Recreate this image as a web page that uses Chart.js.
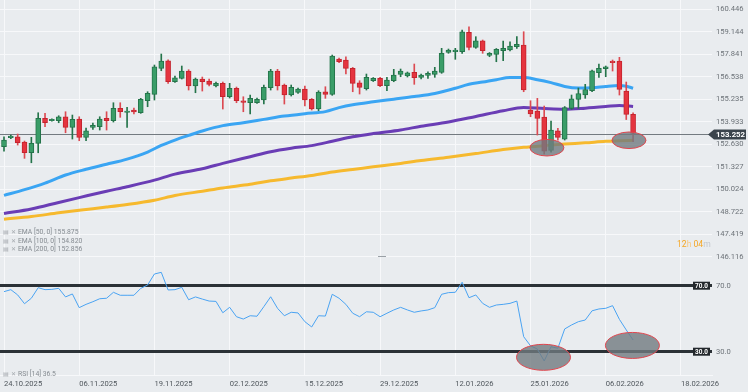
<!DOCTYPE html>
<html>
<head>
<meta charset="utf-8">
<script src="https://cdn.jsdelivr.net/npm/chart.js@4.4.0/dist/chart.umd.min.js"></script>
<style>
    html, body { margin: 0; padding: 0; }
    body { width: 748px; height: 392px; background: #e9ecef; position: relative; overflow: hidden; font-family: Roboto, sans-serif; }
    canvas { position: absolute; left: 0; }
    #priceChart { top: 0; }
    #rsiChart { top: 258px; }
    .legend { position: absolute; left: 3px; font-size: 6.8px; line-height: 8px; color: #868c92; white-space: nowrap; }
    .legend .ico { display: inline-block; width: 7.5px; color: #a3a8ad; font-size: 6px; }
    #countdown { position: absolute; left: 677px; top: 238px; font-size: 8.6px; line-height: 12px; color: #f5a623; }
    #countdown .u1 { color: #f8c77c; }
    #countdown .u2 { color: #c3c7cc; }
    #handle { position: absolute; left: 378px; top: 256px; width: 8px; height: 1px; background: #9aa0a6; }
</style>
</head>
<body>
<canvas id="priceChart" width="748" height="266"></canvas>
<canvas id="rsiChart" width="748" height="134"></canvas>

<div class="legend" style="top:228px"><span class="ico">▤</span><span class="ico">✕</span>EMA [50, 0] 155.875</div>
<div class="legend" style="top:236.5px"><span class="ico">▤</span><span class="ico">✕</span>EMA [100, 0] 154.820</div>
<div class="legend" style="top:245px"><span class="ico">▤</span><span class="ico">✕</span>EMA [200, 0] 152.856</div>
<div class="legend" style="top:370px"><span class="ico">▤</span><span class="ico">✕</span>RSI [14] 36.5</div>
<div id="countdown">12<span class="u1">h</span> 04<span class="u2">m</span></div>
<div id="handle"></div>

<script>
    //  ==================== DATA ====================
    // daily candles, one per index (0 = 24.10.2025)
    let openPrices = [
        152.485, 153.007, 153.065, 152.757, 152.137, 152.682, 154.131, 153.992, 153.992, 154.223,
        153.609, 154.090, 153.030, 153.609, 153.644, 154.131, 153.992, 154.710, 154.478, 154.611,
        154.455, 155.150, 155.521, 157.028, 157.468, 156.251, 156.448, 156.871, 156.002, 156.408,
        156.292, 156.002, 156.159, 155.382, 155.869, 155.150, 155.035, 155.035, 155.191, 155.904,
        156.871, 156.060, 155.481, 155.637, 155.828, 155.232, 154.670, 155.672, 155.521, 157.567,
        157.509, 157.028, 156.193, 155.846, 156.309, 156.448, 156.020, 156.309, 156.680, 156.582,
        156.796, 156.506, 156.622, 156.680, 156.796, 157.955, 157.990, 157.990, 159.114, 158.244,
        158.627, 157.781, 157.839, 158.047, 158.088, 158.279, 158.378, 154.611, 154.554, 154.206,
        152.277, 153.412, 152.931, 154.710, 155.232, 155.481, 155.730, 156.773, 157.005, 157.451,
        157.451, 155.712, 154.363
    ];
    let highPrices = [
        153.065, 153.163, 153.221, 152.815, 153.030, 154.455, 154.420, 154.100, 154.281, 154.513,
        154.322, 154.223, 153.569, 153.858, 154.223, 154.513, 155.035, 155.035, 154.768, 154.727,
        155.290, 155.672, 157.219, 157.856, 157.526, 156.582, 157.161, 156.947, 156.466, 156.524,
        156.408, 156.234, 156.234, 156.159, 155.944, 155.382, 155.481, 155.307, 156.060, 156.970,
        156.970, 156.118, 156.060, 155.886, 156.002, 155.280, 155.730, 155.962, 157.798, 157.625,
        157.700, 157.080, 156.309, 156.697, 156.494, 156.506, 156.506, 156.970, 156.987, 156.813,
        157.277, 156.697, 156.831, 157.086, 158.187, 158.146, 158.187, 159.247, 159.438, 158.859,
        158.667, 157.943, 158.175, 158.609, 158.569, 158.859, 159.148, 155.150, 155.290, 154.843,
        153.974, 153.551, 154.814, 155.481, 155.886, 156.101, 156.929, 157.277, 157.161, 157.509,
        157.665, 156.234, 154.455
    ];
    let lowPrices = [
        152.236, 152.960, 152.584, 151.813, 151.558, 152.137, 153.644, 153.960, 153.876, 153.296,
        152.931, 152.833, 152.833, 153.493, 153.453, 153.453, 153.916, 154.189, 153.609, 154.380,
        154.420, 154.803, 155.191, 156.889, 156.159, 156.216, 156.408, 155.770, 155.614, 155.712,
        156.002, 155.944, 154.670, 155.307, 155.035, 154.513, 154.380, 154.988, 154.959, 155.770,
        155.770, 154.959, 155.423, 155.567, 154.843, 154.611, 154.571, 155.289, 155.463, 157.352,
        156.697, 155.672, 155.539, 155.770, 156.263, 155.962, 155.730, 156.251, 156.541, 156.524,
        156.101, 156.408, 156.448, 156.506, 156.738, 157.897, 157.549, 157.897, 158.088, 158.187,
        157.897, 157.700, 157.410, 157.468, 158.030, 158.187, 155.672, 154.223, 153.163, 152.062,
        152.178, 152.873, 152.873, 154.650, 154.710, 155.290, 155.672, 156.506, 156.541, 156.871,
        155.481, 154.061, 152.775
    ];
    let closePrices = [
        152.873, 153.105, 152.717, 152.137, 152.682, 154.131, 153.876, 154.073, 154.223, 153.609,
        154.073, 153.030, 153.412, 153.725, 154.090, 153.992, 154.710, 154.513, 154.554, 154.496,
        155.232, 155.579, 157.120, 157.451, 156.251, 156.483, 156.871, 156.002, 156.408, 156.251,
        156.101, 156.159, 155.382, 155.869, 155.150, 155.058, 155.290, 155.232, 155.927, 156.871,
        156.002, 155.481, 155.927, 155.828, 155.191, 154.670, 155.655, 155.521, 157.740, 157.410,
        157.028, 156.159, 155.927, 156.506, 156.448, 156.020, 156.350, 156.640, 156.871, 156.773,
        156.483, 156.640, 156.738, 156.871, 157.897, 158.088, 158.088, 159.148, 158.244, 158.627,
        158.047, 157.897, 158.129, 158.187, 158.320, 158.418, 155.770, 154.380, 154.119, 152.236,
        153.453, 153.030, 154.756, 155.260, 155.562, 155.794, 156.883, 157.028, 157.120, 157.352,
        155.811, 154.363, 153.252
    ];

    // EMA lines, read at these candle indices
    let ema50Idx = [0, 3, 6, 9, 12, 15, 18, 21, 23, 25, 27, 29, 32, 35, 38, 41, 44, 47, 49, 51, 54, 57, 60, 63, 66, 68, 70, 72, 74, 76, 78, 80, 82, 84, 86, 88, 90, 91, 92];
    let ema50 = [149.67, 150.00, 150.38, 150.85, 151.18, 151.47, 151.77, 152.18, 152.56, 152.87, 153.14, 153.40, 153.71, 153.88, 154.07, 154.26, 154.40, 154.52, 154.75, 154.92, 155.09, 155.24, 155.39, 155.57, 155.87, 156.10, 156.23, 156.37, 156.49, 156.49, 156.37, 156.20, 155.98, 155.89, 155.90, 155.98, 156.03, 155.99, 155.875];
    let emaSlowIdx = [0, 4, 8, 11, 15, 18, 22, 25, 29, 32, 36, 39, 42, 45, 48, 51, 54, 58, 61, 65, 69, 73, 76, 79, 82, 85, 88, 90, 92];
    let ema100 = [148.62, 148.88, 149.26, 149.54, 149.91, 150.17, 150.55, 150.90, 151.21, 151.52, 151.91, 152.20, 152.40, 152.55, 152.80, 153.06, 153.25, 153.46, 153.67, 153.92, 154.24, 154.57, 154.76, 154.70, 154.66, 154.72, 154.81, 154.88, 154.82];
    let ema200 = [148.29, 148.44, 148.66, 148.81, 148.99, 149.14, 149.39, 149.66, 149.91, 150.10, 150.31, 150.51, 150.67, 150.82, 151.02, 151.17, 151.32, 151.52, 151.69, 151.88, 152.09, 152.32, 152.45, 152.55, 152.64, 152.71, 152.80, 152.83, 152.856];

    // RSI(14), one per candle
    let rsiValues = [
        66.4, 67.6, 64.4, 59.1, 62.4, 68.8, 67.6, 67.8, 68.4, 63.2,
        65.0, 56.7, 58.7, 60.3, 62.1, 62.4, 66.0, 64.2, 64.2, 64.2,
        68.4, 70.4, 77.1, 78.1, 67.4, 67.6, 69.0, 61.5, 63.2, 61.9,
        60.7, 60.5, 53.6, 56.9, 51.2, 49.8, 51.8, 51.5, 57.3, 63.3,
        56.3, 51.8, 53.9, 53.5, 48.2, 45.0, 51.8, 51.6, 64.8, 62.4,
        58.7, 53.3, 51.2, 54.2, 53.9, 51.2, 53.3, 55.3, 56.9, 55.3,
        53.9, 54.7, 55.3, 56.7, 64.8, 65.8, 66.0, 72.1, 62.7, 64.4,
        59.3, 56.9, 58.3, 58.7, 59.3, 60.7, 39.1, 33.6, 31.6, 24.4,
        33.0, 32.1, 43.8, 46.2, 48.2, 49.2, 54.8, 55.9, 56.3, 57.9,
        49.6, 43.2, 37.1
    ];

    // axes
    let dateTickIdx = [0, 11, 22, 33, 44, 55, 66, 77, 88, 99];
    let dateLabels = ['24.10.2025', '06.11.2025', '19.11.2025', '02.12.2025', '15.12.2025', '29.12.2025', '12.01.2026', '25.01.2026', '06.02.2026', '18.02.2026'];
    let priceTicks = [146.116, 147.419, 148.722, 150.024, 151.327, 152.630, 153.933, 155.235, 156.538, 157.841, 159.144, 160.446];
    let rsiLevels = [70, 30];
    let lastPrice = 153.252;

    // highlighted zones (ellipses)
    let markIdx = [79.4, 91.4];
    let markPrice = [152.43, 152.86];
    let rsiMarkIdx = [78.9, 91.9];
    let rsiMarkValue = [26.6, 33.8];

    //  ==================== SHARED ====================
    let xMin = -0.585, xMax = 103.54;
    let gridColor = '#f7f8fa';
    let upBody = '#3a9d68', upLine = '#24744a';
    let downBody = '#e5343f', downLine = '#c4242e';

    function isUp(i){
        return closePrices[i] >= openPrices[i];
    }

    function drawEllipses(chart, idxList, valList, rx, ry){
        let ctx = chart.ctx;
        let xs = chart.scales.x, ys = chart.scales.y;
        ctx.save();
        for (let k = 0; k < idxList.length; k++) {
            ctx.beginPath();
            ctx.ellipse(xs.getPixelForValue(idxList[k]), ys.getPixelForValue(valList[k]), rx, ry, 0, 0, Math.PI * 2);
            ctx.fillStyle = 'rgba(112,122,128,0.8)';
            ctx.fill();
            ctx.lineWidth = 1;
            ctx.strokeStyle = '#e0454d';
            ctx.stroke();
        }
        ctx.restore();
    }

    //  ==================== PRICE CHART ====================
    let lastPricePlugin = {
        id: 'lastPrice',
        beforeDatasetsDraw(chart){
            let ctx = chart.ctx;
            let py = Math.round(chart.scales.y.getPixelForValue(lastPrice)) + 0.5;
            ctx.save();
            ctx.strokeStyle = '#737a80';
            ctx.lineWidth = 1;
            ctx.beginPath();
            ctx.moveTo(chart.chartArea.left, py);
            ctx.lineTo(709, py);
            ctx.stroke();
            ctx.restore();
        },
        afterDraw(chart){
            let ctx = chart.ctx;
            let py = Math.round(chart.scales.y.getPixelForValue(lastPrice)) + 0.5;
            ctx.save();
            ctx.fillStyle = '#3b444c';
            ctx.beginPath();
            ctx.moveTo(708, py);
            ctx.lineTo(714, py - 5);
            ctx.lineTo(746, py - 5);
            ctx.lineTo(746, py + 5);
            ctx.lineTo(714, py + 5);
            ctx.closePath();
            ctx.fill();
            ctx.fillStyle = '#ffffff';
            ctx.font = 'bold 7.8px Roboto';
            ctx.textAlign = 'center';
            ctx.textBaseline = 'middle';
            ctx.fillText(lastPrice.toFixed(3), 730.5, py + 0.5);
            ctx.restore();
        }
    };

    let priceMarksPlugin = {
        id: 'priceMarks',
        afterDatasetsDraw(chart){
            drawEllipses(chart, markIdx, markPrice, 17, 8.3);
        }
    };

    let priceCtx = document.getElementById('priceChart');
    let priceChart = new Chart(priceCtx, {
        type: 'bar',
        data: {
            datasets: [
                {
                    label: 'Body',
                    data: openPrices.map((o, i) => ({x: i, y: [o, closePrices[i]]})),
                    backgroundColor: c => isUp(c.dataIndex) ? upBody : downBody,
                    borderColor: c => isUp(c.dataIndex) ? upLine : downLine,
                    borderWidth: 1,
                    borderSkipped: false,
                    barThickness: 5,
                    grouped: false,
                    order: 0
                },
                {
                    label: 'Wick',
                    data: lowPrices.map((l, i) => ({x: i, y: [l, highPrices[i]]})),
                    backgroundColor: c => isUp(c.dataIndex) ? upLine : '#dc4a52',
                    borderWidth: 0,
                    barThickness: 1,
                    grouped: false,
                    order: 1
                },
                {
                    type: 'line',
                    label: 'EMA 50',
                    data: ema50Idx.map((x, k) => ({x: x, y: ema50[k]})),
                    borderColor: '#3aa5f3',
                    borderWidth: 3,
                    pointRadius: 0,
                    cubicInterpolationMode: 'monotone',
                    order: 2
                },
                {
                    type: 'line',
                    label: 'EMA 100',
                    data: emaSlowIdx.map((x, k) => ({x: x, y: ema100[k]})),
                    borderColor: '#6a3db5',
                    borderWidth: 3,
                    pointRadius: 0,
                    cubicInterpolationMode: 'monotone',
                    order: 3
                },
                {
                    type: 'line',
                    label: 'EMA 200',
                    data: emaSlowIdx.map((x, k) => ({x: x, y: ema200[k]})),
                    borderColor: '#f6b92e',
                    borderWidth: 3,
                    pointRadius: 0,
                    cubicInterpolationMode: 'monotone',
                    order: 4
                }
            ]
        },
        options: {
            responsive: false,
            animation: false,
            layout: { padding: { left: 0, right: 0, top: 0, bottom: 8 } },
            plugins: { legend: { display: false }, tooltip: { enabled: false } },
            scales: {
                x: {
                    type: 'linear',
                    min: xMin,
                    max: xMax,
                    offset: false,
                    afterBuildTicks: axis => { axis.ticks = dateTickIdx.map(v => ({value: v})); },
                    afterFit: axis => { axis.height = 0; axis.paddingLeft = 0; axis.paddingRight = 0; },
                    ticks: { display: false },
                    grid: { color: gridColor, drawTicks: false, offset: false },
                    border: { display: false }
                },
                y: {
                    position: 'right',
                    min: 146.041,
                    max: 160.985,
                    afterBuildTicks: axis => { axis.ticks = priceTicks.map(v => ({value: v})); },
                    afterFit: axis => { axis.width = 36; axis.paddingTop = 0; axis.paddingBottom = 0; },
                    ticks: {
                        padding: 4,
                        color: '#6d7379',
                        font: { family: 'Roboto', size: 7.6 },
                        callback: v => v.toFixed(3)
                    },
                    grid: { color: gridColor, drawTicks: false },
                    border: { display: false }
                }
            }
        },
        plugins: [lastPricePlugin, priceMarksPlugin]
    });

    //  ==================== RSI CHART ====================
    let rsiTagPlugin = {
        id: 'rsiTags',
        afterDraw(chart){
            let ctx = chart.ctx;
            ctx.save();
            rsiLevels.forEach(level => {
                let py = chart.scales.y.getPixelForValue(level);
                ctx.fillStyle = '#23282c';
                ctx.fillRect(693, py - 4, 17, 8);
                ctx.fillStyle = '#ffffff';
                ctx.font = 'bold 6.4px Roboto';
                ctx.textAlign = 'center';
                ctx.textBaseline = 'middle';
                ctx.fillText(level.toFixed(1), 701.5, py + 0.5);
            });
            ctx.restore();
        }
    };

    let rsiMarksPlugin = {
        id: 'rsiMarks',
        afterDatasetsDraw(chart){
            drawEllipses(chart, rsiMarkIdx, rsiMarkValue, 27, 13);
        }
    };

    let rsiCtx = document.getElementById('rsiChart');
    let rsiChart = new Chart(rsiCtx, {
        type: 'line',
        data: {
            datasets: [
                {
                    label: 'RSI',
                    data: rsiValues.map((v, i) => ({x: i, y: v})),
                    borderColor: '#4aa3f2',
                    borderWidth: 1,
                    pointRadius: 0,
                    tension: 0
                }
            ]
        },
        options: {
            responsive: false,
            animation: false,
            layout: { padding: 0 },
            plugins: { legend: { display: false }, tooltip: { enabled: false } },
            scales: {
                x: {
                    type: 'linear',
                    min: xMin,
                    max: xMax,
                    afterBuildTicks: axis => { axis.ticks = dateTickIdx.map(v => ({value: v})); },
                    afterFit: axis => { axis.height = 16.5; axis.paddingLeft = 0; axis.paddingRight = 0; },
                    ticks: {
                        align: 'start',
                        padding: 4,
                        maxRotation: 0,
                        autoSkip: false,
                        color: '#50575d',
                        font: { family: 'Roboto', size: 7.6 },
                        callback: v => dateLabels[dateTickIdx.indexOf(v)]
                    },
                    grid: { color: gridColor, drawTicks: false },
                    border: { display: true, color: gridColor }
                },
                y: {
                    position: 'right',
                    min: 15.58,
                    max: 86.79,
                    afterBuildTicks: axis => { axis.ticks = rsiLevels.map(v => ({value: v})); },
                    afterFit: axis => { axis.width = 36; axis.paddingTop = 0; axis.paddingBottom = 0; },
                    ticks: {
                        padding: 4,
                        color: '#6d7379',
                        font: { family: 'Roboto', size: 7.6 },
                        callback: v => v.toFixed(1)
                    },
                    grid: { color: '#2b3136', lineWidth: 3, drawTicks: false, z: 0 },
                    border: { display: false }
                }
            }
        },
        plugins: [rsiTagPlugin, rsiMarksPlugin]
    });
</script>
</body>
</html>
